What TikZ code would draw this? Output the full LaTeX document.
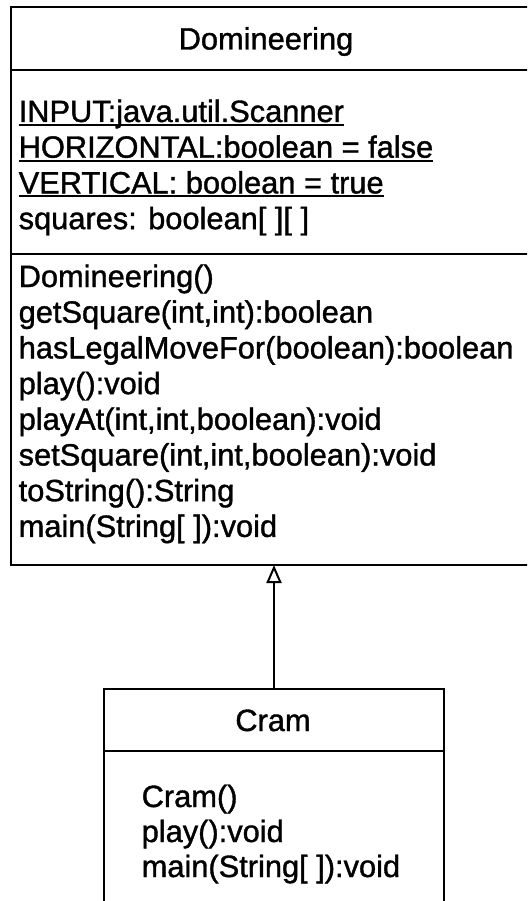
\documentclass[tikz,border=0pt]{standalone}
\usepackage{fontspec}
\setmainfont{Liberation Sans}[FakeBold=1.2]
\usetikzlibrary{arrows.meta}
\begin{document}
\begin{tikzpicture}[x=1pt,y=-1pt,
  classbox/.style={draw, rectangle, inner sep=0pt, outer sep=0pt, line width=2pt, anchor=north west},
  divider/.style={line width=2pt},
  txt/.style={anchor=base west, inner sep=0pt, font=\fontsize{30.8}{35.7}\selectfont},
  ttl/.style={anchor=base, inner sep=0pt, font=\fontsize{30.8}{35.7}\selectfont},
  uline/.style={line width=2pt},
  inherit/.style={line width=2pt, -{Triangle[open,length=18pt,width=15pt]}}]
\useasboundingbox (0,0) rectangle (527,901);
\clip (0,0) rectangle (527,901);
% Domineering class
\node[classbox, minimum width=526pt, minimum height=558pt] (dom) at (11,7) {};
\draw[divider] (dom.west |- 0,70) -- (dom.east |- 0,70);
\draw[divider] (dom.west |- 0,254) -- (dom.east |- 0,254);
\node[ttl] (domtitle) at (266,49.5) {Domineering};
\node[txt] (a1) at (18.5,122) {INPUT:java.util.Scanner};
\node[txt] (a2) at (18.5,157.7) {HORIZONTAL:boolean = false};
\node[txt] (a3) at (18.5,193.4) {VERTICAL: boolean = true};
\node[txt] (a4) at (18.5,229.1) {squares: boolean[ ][ ]};
\foreach \n in {a1,a2,a3}{
  \draw[uline] ([yshift=-3pt]\n.base west) -- ([yshift=-3pt]\n.base east);
}
\node[txt] (m1) at (18.5,287) {Domineering()};
\node[txt] (m2) at (18.5,322.7) {getSquare(int,int):boolean};
\node[txt] (m3) at (18.5,358.4) {hasLegalMoveFor(boolean):boolean};
\node[txt] (m4) at (18.5,394.1) {play():void};
\node[txt] (m5) at (18.5,429.8) {playAt(int,int,boolean):void};
\node[txt] (m6) at (18.5,465.5) {setSquare(int,int,boolean):void};
\node[txt] (m7) at (18.5,501.2) {toString():String};
\node[txt] (m8) at (18.5,536.9) {main(String[ ]):void};
% Cram class
\node[classbox, minimum width=340pt, minimum height=300pt] (cram) at (104,689) {};
\draw[divider] (cram.west |- 0,751) -- (cram.east |- 0,751);
\node[ttl] (cramtitle) at (273,731) {Cram};
\node[txt] (c1) at (141.5,807) {Cram()};
\node[txt] (c2) at (141.5,842) {play():void};
\node[txt] (c3) at (141.5,877) {main(String[ ]):void};
% generalization
\draw[inherit] (cram.north) -- (cram.north |- dom.south);
\end{tikzpicture}
\end{document}
